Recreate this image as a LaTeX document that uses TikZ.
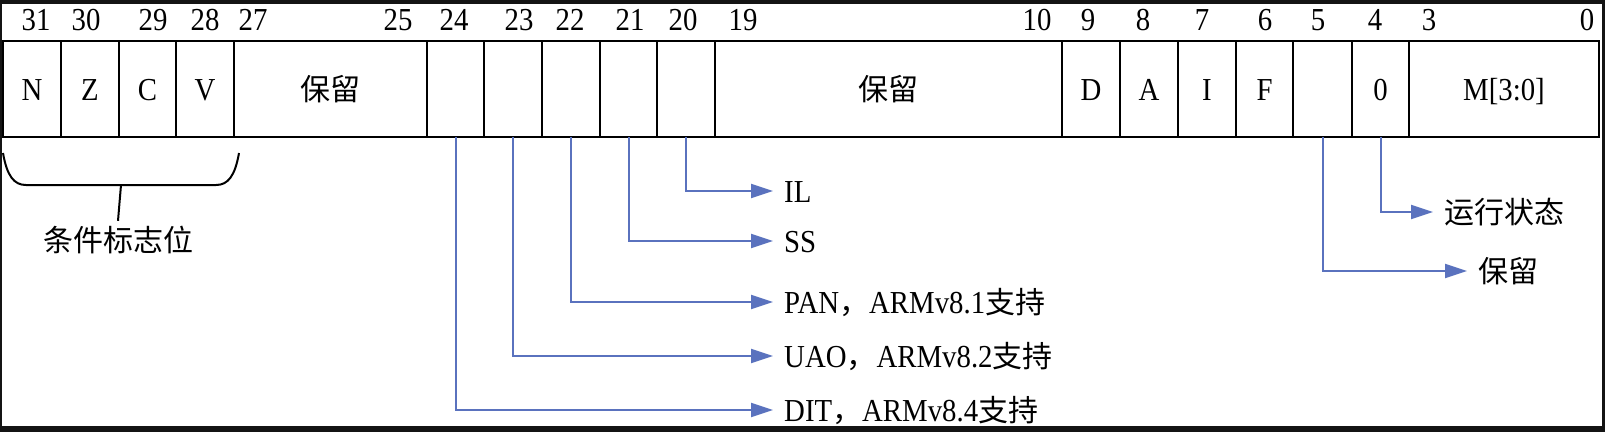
\documentclass[tikz,border=0pt]{standalone}
\usepackage{fontspec}
\setmainfont{Liberation Serif}[FakeStretch=0.9]
\newfontfamily\cjk{Noto Sans CJK SC}
\usetikzlibrary{arrows.meta}
\definecolor{connblue}{RGB}{90,114,190}
\definecolor{framedark}{RGB}{20,20,20}
\newcommand{\zh}[1]{{\cjk\fontsize{30}{36}\selectfont #1}}
\begin{document}
\begin{tikzpicture}[x=1pt,y=-1pt,
  lat/.style={font=\fontsize{32}{38}\selectfont},
  cellbox/.style={draw=black, line width=2.3pt, minimum height=96pt, inner sep=0pt, outer sep=0pt, text height=22pt, text depth=0pt, lat},
  bitnum/.style={anchor=base, inner sep=0pt, lat},
  lbl/.style={anchor=west, inner xsep=11pt, inner ysep=0pt, text height=22pt, text depth=0pt, lat},
  conn/.style={draw=connblue, line width=2pt, -{Triangle[length=22pt,width=14pt]}},
  bracestyle/.style={draw=black, line width=2pt}]
\useasboundingbox (0,0) rectangle (1605,432);
\fill[framedark] (0,0) rectangle (1605,432);
\fill[white] (2,4) rectangle (1602,426);

% register cells
\node[cellbox, minimum width=58pt] (N) at (32,89) {N};
\node[cellbox, minimum width=58pt] (Z) at (90,89) {Z};
\node[cellbox, minimum width=57pt] (C) at (147.5,89) {C};
\node[cellbox, minimum width=58pt] (V) at (205,89) {V};
\node[cellbox, minimum width=193pt] (r1) at (330.5,89) {\zh{保留}};
\node[cellbox, minimum width=57pt] (b24) at (455.5,89) {};
\node[cellbox, minimum width=58pt] (b23) at (513,89) {};
\node[cellbox, minimum width=58pt] (b22) at (571,89) {};
\node[cellbox, minimum width=57pt] (b21) at (628.5,89) {};
\node[cellbox, minimum width=58pt] (b20) at (686,89) {};
\node[cellbox, minimum width=347pt] (r2) at (888.5,89) {\zh{保留}};
\node[cellbox, minimum width=58pt] (D) at (1091,89) {D};
\node[cellbox, minimum width=58pt] (A) at (1149,89) {A};
\node[cellbox, minimum width=58pt] (I) at (1207,89) {I};
\node[cellbox, minimum width=57pt] (F) at (1264.5,89) {F};
\node[cellbox, minimum width=59pt] (b5) at (1322.5,89) {};
\node[cellbox, minimum width=57pt] (b4) at (1380.5,89) {0};
\node[cellbox, minimum width=190pt] (M) at (1504,89) {M[3:0]};

% bit numbers
\node[bitnum] (n31) at (36,30) {31};
\node[bitnum] (n30) at (86,30) {30};
\node[bitnum] (n29) at (153,30) {29};
\node[bitnum] (n28) at (205,30) {28};
\node[bitnum] (n27) at (253,30) {27};
\node[bitnum] (n25) at (398,30) {25};
\node[bitnum] (n24) at (454,30) {24};
\node[bitnum] (n23) at (519,30) {23};
\node[bitnum] (n22) at (570,30) {22};
\node[bitnum] (n21) at (630,30) {21};
\node[bitnum] (n20) at (683,30) {20};
\node[bitnum] (n19) at (743,30) {19};
\node[bitnum] (n10) at (1037,30) {10};
\node[bitnum] (n9) at (1088,30) {9};
\node[bitnum] (n8) at (1143,30) {8};
\node[bitnum] (n7) at (1202,30) {7};
\node[bitnum] (n6) at (1265,30) {6};
\node[bitnum] (n5) at (1318,30) {5};
\node[bitnum] (n4) at (1375,30) {4};
\node[bitnum] (n3) at (1429,30) {3};
\node[bitnum] (n0) at (1587,30) {0};

% condition flag brace
\coordinate (bl) at (3,153);
\coordinate (br) at (239,153);
\coordinate (bmid) at (121,185);
\draw[bracestyle] (bl) .. controls (7,176) and (14,185) .. (26,185) -- (216,185) .. controls (228,185) and (235,176) .. (br);
\node[inner xsep=0pt, inner ysep=8pt, text height=22pt, text depth=0pt] (flag) at (118,240) {\zh{条件标志位}};
\draw[bracestyle] (bmid) -- (flag.north);

% labels
\node[lbl] (il) at (773,191) {IL};
\node[lbl] (ss) at (773,241) {SS};
\node[lbl] (pan) at (773,302) {PAN\zh{，}ARMv8.1\zh{支持}};
\node[lbl] (uao) at (773,356) {UAO\zh{，}ARMv8.2\zh{支持}};
\node[lbl] (dit) at (773,410) {DIT\zh{，}ARMv8.4\zh{支持}};
\node[lbl] (run) at (1433,212) {\zh{运行状态}};
\node[lbl] (rsv) at (1467,271) {\zh{保留}};

% connectors
\draw[conn] (b20.south) |- (il.west);
\draw[conn] (b21.south) |- (ss.west);
\draw[conn] (b22.south) |- (pan.west);
\draw[conn] (b23.south) |- (uao.west);
\draw[conn] (b24.south) |- (dit.west);
\draw[conn] (b4.south) |- (run.west);
\draw[conn] (b5.south) |- (rsv.west);
\end{tikzpicture}
\end{document}
